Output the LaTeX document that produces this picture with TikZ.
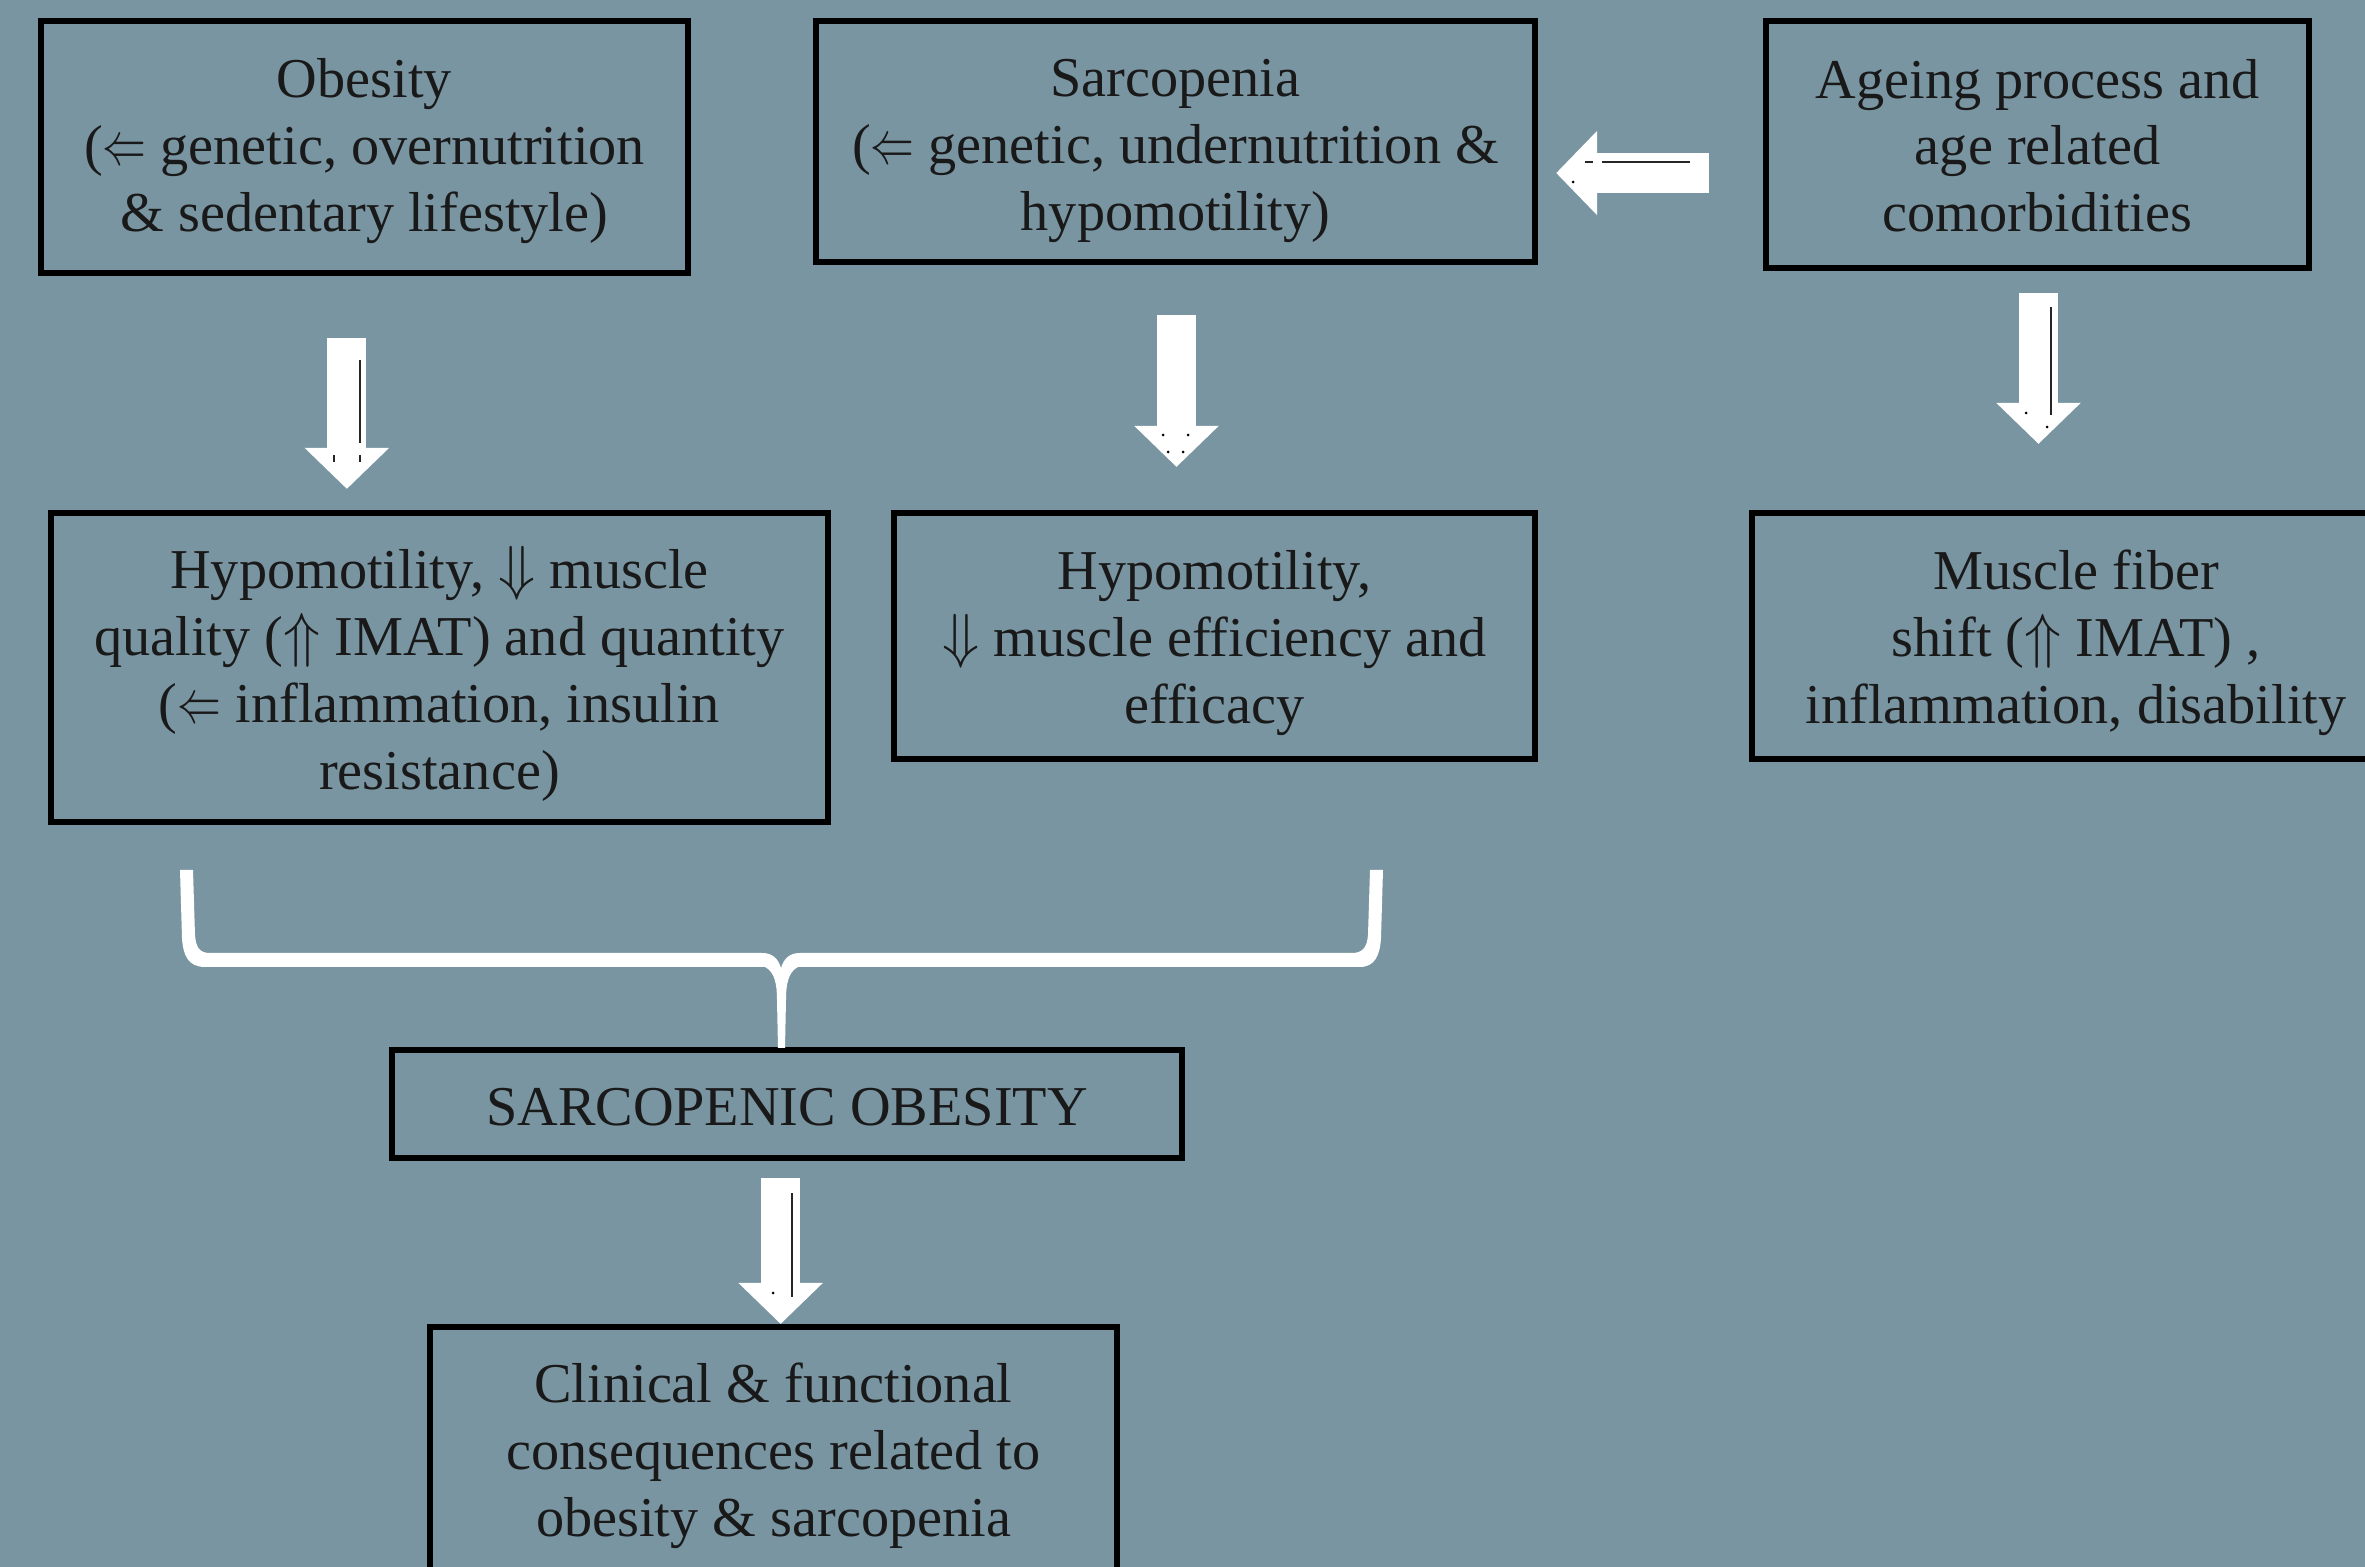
\documentclass[tikz,border=0pt]{standalone}
\usepackage{fontspec}
\setmainfont{Liberation Serif}
\usetikzlibrary{arrows.meta,calc}
\definecolor{bgc}{RGB}{121,149,161}
\newcommand\ms{\rule[-5.4pt]{0pt}{19pt}}
\newcommand\la{\smash{\scalebox{0.72}[1]{$\Leftarrow$}}}
\newcommand\ua{\smash{$\Uparrow$}}
\newcommand\da{\smash{$\Downarrow$}}
\begin{document}
\begin{tikzpicture}[x=0.01cm,y=-0.01cm,
  box/.style={draw=black, line width=1.7pt, inner sep=0pt},
  lbl/.style={align=center, inner sep=0pt,
    font=\fontsize{16pt}{19pt}\selectfont, text=black!90},
  barrow/.style={draw=white, line width=0.39cm,
    -{Triangle[width=0.82cm,length=0.41cm]}},
  inmark/.style={draw=black!85, line width=0.6pt}]
\fill[bgc] (0,0) rectangle (2365,1567);
\useasboundingbox (0,0) rectangle (2365,1567);
\clip (0,0) rectangle (2365,1567);

% boxes
\node[box, minimum width=6.47cm, minimum height=2.52cm] (ob) at (364.5,147) {};
\node[box, minimum width=7.19cm, minimum height=2.41cm] (sa) at (1175.5,141.5) {};
\node[box, minimum width=5.43cm, minimum height=2.47cm] (ag) at (2037.5,144.5) {};
\node[box, minimum width=7.77cm, minimum height=3.09cm] (h1) at (439.5,667.5) {};
\node[box, minimum width=6.41cm, minimum height=2.46cm] (h2) at (1214.5,636) {};
\node[box, minimum width=6.48cm, minimum height=2.46cm] (mf) at (2076,636) {};
\node[box, minimum width=7.90cm, minimum height=1.08cm] (so) at (787,1104) {};
\node[box, minimum width=6.87cm, minimum height=2.50cm] (cl) at (773.5,1452) {};

% texts
\node[lbl] (obt) at ([yshift=-0.03cm]ob.center)
  {\ms Obesity\\(\la{} genetic, overnutrition\\\& sedentary lifestyle)\ms};
\node[lbl] (sat) at ([yshift=-0.075cm]sa.center)
  {\ms Sarcopenia\\(\la{} genetic, undernutrition \&\\hypomotility)\ms};
\node[lbl] (agt) at ([yshift=-0.06cm]ag.center)
  {\ms Ageing process and\\age related\\comorbidities\ms};
\node[lbl] (h1t) at ([yshift=-0.07cm]h1.center)
  {\ms Hypomotility, \da{} muscle\\quality (\ua{} IMAT) and quantity\\(\la{} inflammation, insulin\\resistance)\ms};
\node[lbl] (h2t) at ([yshift=-0.06cm]h2.center)
  {\ms Hypomotility,\\\da{} muscle efficiency and\\efficacy\ms};
\node[lbl] (mft) at ([yshift=-0.06cm]mf.center)
  {\ms Muscle fiber\\shift (\ua{} IMAT) ,\\inflammation, disability\ms};
\node[lbl] (sot) at ([yshift=-0.07cm]so.center)
  {\ms SARCOPENIC OBESITY\ms};
\node[lbl] (clt) at ([yshift=-0.03cm]cl.center)
  {\ms Clinical \& functional\\consequences related to\\obesity \& sarcopenia\ms};

% block arrows
\draw[barrow, shorten <=0.62cm, shorten >=0.21cm]
  ($(ob.south west)!0.473!(ob.south east)$) coordinate (t1) -- (t1 |- h1.north);
\draw[barrow, shorten <=0.50cm, shorten >=0.43cm]
  ([xshift=0.01cm]sa.south) coordinate (t2) -- (t2 |- h2.north);
\draw[barrow, shorten <=0.22cm, shorten >=0.66cm]
  ([xshift=0.01cm]ag.south) coordinate (t3) -- (t3 |- mf.north);
\draw[barrow, shorten <=0.17cm, shorten >=0cm]
  ($(so.south west)!0.492!(so.south east)$) coordinate (t4) -- (t4 |- cl.north);
\draw[barrow, shorten <=0.54cm, shorten >=0.18cm]
  ([yshift=-0.285cm]ag.west) coordinate (t5) -- (t5 -| sa.east);

% small marks inside the arrows
\draw[inmark] (360,360) -- (360,443);
\draw[inmark] (334,455) -- (334,462) (360,455) -- (360,462);
\fill[black] (1163,435) circle (1.5) (1188,435) circle (1.5)
  (1168,452) circle (1.5) (1183,452) circle (1.5);
\draw[inmark] (2051,307) -- (2051,415);
\fill[black] (2026,413) circle (1.5) (2047,427) circle (1.5);
\draw[inmark] (792,1193) -- (792,1297);
\fill[black] (773,1293) circle (1.5);
\draw[inmark] (1602,162) -- (1690,162) (1585,162) -- (1593,162);
\fill[black] (1573,182) circle (1.5);

% brace
\fill[white] (180,870) -- (182,938) .. controls (183,955) and (188,967) .. (205,967)
  -- (765,967) .. controls (775,972) and (777,985) .. (777,1000) -- (778,1048)
  -- (785,1048) -- (786,1000) .. controls (786,985) and (788,972) .. (798,967)
  -- (1360,967) .. controls (1375,967) and (1380,955) .. (1381,938) -- (1383,870)
  -- (1370,870) -- (1368,935) .. controls (1367,948) and (1362,953) .. (1352,953)
  -- (800,953) .. controls (790,953) and (784,958) .. (781,968)
  .. controls (778,958) and (772,953) .. (762,953)
  -- (210,953) .. controls (200,953) and (196,948) .. (195,935) -- (193,870) -- cycle;
\end{tikzpicture}
\end{document}
